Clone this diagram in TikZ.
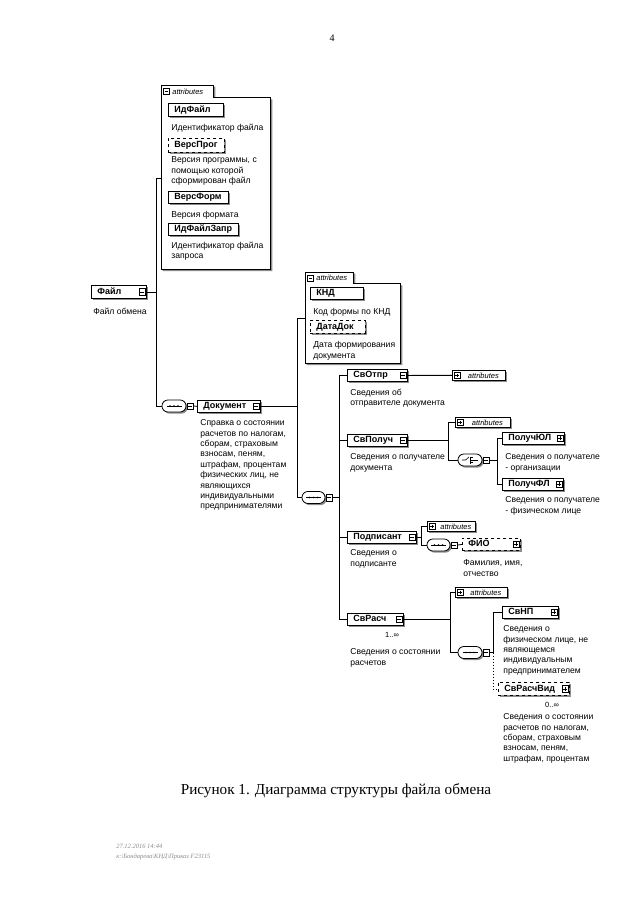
\documentclass[tikz,border=0pt]{standalone}
\usepackage{fontspec}
\setmainfont{Liberation Serif}
\newfontfamily\arial{Liberation Sans}
\usetikzlibrary{shadows}
\tikzset{
  shad/.style={drop shadow={shadow xshift=1.6pt, shadow yshift=-1.6pt, fill=black!45, opacity=1}},
  elembox/.style={draw, fill=white, anchor=north west, inner xsep=6pt, inner ysep=0pt, align=left,
    font=\arial\bfseries\fontsize{9}{10}\selectfont, text height=6.4pt, text depth=1.7pt, line width=0.8pt, shad},
  desctext/.style={anchor=north west, inner sep=0pt, align=left, font=\arial\fontsize{8.6}{10.4}\selectfont},
  multtext/.style={anchor=center, inner sep=0pt, font=\arial\fontsize{7.5}{8}\selectfont},
  pmbox/.style={draw, fill=white, minimum size=6.5pt, inner sep=0pt, line width=0.5pt},
  mbox/.style={pmbox, path picture={\draw[line width=0.5pt] ([xshift=1.3pt]path picture bounding box.west) -- ([xshift=-1.3pt]path picture bounding box.east);}},
  pbox/.style={pmbox, path picture={\draw[line width=0.5pt] ([xshift=1.3pt]path picture bounding box.west) -- ([xshift=-1.3pt]path picture bounding box.east);
      \draw[line width=0.5pt] ([yshift=1.3pt]path picture bounding box.south) -- ([yshift=-1.3pt]path picture bounding box.north);}},
  ovalbox/.style={draw, fill=white, minimum width=24pt, minimum height=12pt, rounded corners=5.9pt, inner sep=0pt, line width=0.8pt, shad},
  attrtext/.style={inner sep=0pt, font=\arial\itshape\fontsize{7.5}{8}\selectfont},
  sattrbox/.style={draw, fill=white, anchor=north west, minimum height=10pt, inner sep=0pt, line width=0.7pt,
    font=\arial\itshape\fontsize{7.5}{8}\selectfont, shad},
  conn/.style={line width=0.8pt},
}
% element box: name, x, y, width, height, text, extra style
\newcommand\elem[7]{%
  \pgfmathsetmacro\tw{#4-12}%
  \node[elembox,#7,minimum width=#4pt,minimum height=#5pt,text width=\tw pt] (#1) at (#2,#3) {#6};}
% port square inside an element
\newcommand\eport[2]{\node[#2] (#1p) at ([xshift=-4.5pt]#1.east) {};}
% description text: name, x, center-y of first line, text
\newcommand\desc[4]{\node[desctext, yshift=3.6pt] (#1) at (#2,#3) {#4};}
% attribute group: name, x, y, tabw, tabh, bodyw, bodyh
\newcommand\attrgroup[7]{%
  \node[anchor=north west, minimum width=#4pt, minimum height=#5pt, inner sep=0pt] (#1t) at (#2,#3) {};
  \node[anchor=north west, minimum width=#6pt, minimum height=#7pt, inner sep=0pt] (#1) at (#1t.south west) {};
  \fill[black!45] ([xshift=1.6pt,yshift=-1.6pt]#1t.north west) -- ([xshift=1.6pt,yshift=-1.6pt]#1.south west)
    -- ([xshift=1.6pt,yshift=-1.6pt]#1.south east) -- ([xshift=1.6pt,yshift=-1.6pt]#1.north east)
    -- ([xshift=1.6pt,yshift=-1.6pt]#1t.south east) -- ([xshift=1.6pt,yshift=-1.6pt]#1t.north east) -- cycle;
  \filldraw[fill=white, line width=0.8pt] (#1t.north west) -- (#1.south west) -- (#1.south east) -- (#1.north east)
    -- (#1t.south east) -- (#1t.north east) -- cycle;
  \node[mbox, minimum size=6pt] (#1m) at ([xshift=5.5pt]#1t.west) {};
  \node[attrtext, anchor=west] (#1l) at ([xshift=11pt]#1t.west) {attributes};}
% small collapsed attributes box: name, x, y, width
\newcommand\sattr[4]{%
  \node[sattrbox, minimum width=#4pt] (#1) at (#2,#3) {\hspace*{9pt}attributes};
  \node[pbox, minimum size=6pt] (#1m) at ([xshift=5pt]#1.west) {};}
% sequence symbol
\newcommand\seqsym[1]{%
  \draw[line width=0.6pt] ([xshift=-7.5pt]#1.center) -- ([xshift=7.5pt]#1.center);
  \foreach \d in {-4,0,4} \fill ([xshift=\d pt]#1.center) circle (0.9pt);}
% choice symbol
\newcommand\choicesym[1]{%
  \draw[line width=0.6pt] ([xshift=-8pt]#1.center) -- ([xshift=-4.5pt]#1.center) -- ([xshift=-1pt,yshift=3pt]#1.center);
  \draw[line width=0.6pt] ([xshift=0pt,yshift=3.5pt]#1.center) -- ([xshift=0pt,yshift=-3.5pt]#1.center);
  \foreach \d in {-2.5,0,2.5} \draw[line width=0.5pt] ([xshift=0pt,yshift=\d pt]#1.center) -- ([xshift=3pt,yshift=\d pt]#1.center);
  \draw[line width=0.6pt] ([xshift=3pt]#1.center) -- ([xshift=8pt]#1.center);}
\begin{document}
\begin{tikzpicture}[x=1pt,y=-1pt,line width=0.7pt]
\useasboundingbox (0,0) rectangle (640,905);
\fill[white] (0,0) rectangle (640,905);

% page number
\node[font=\fontsize{10}{12}\selectfont, inner sep=0pt] (pnum) at (332,38) {4};

% junction x positions
\coordinate (x1) at (156,0);
\coordinate (x2) at (297,0);
\coordinate (x3) at (339,0);
\coordinate (x4) at (448,0);
\coordinate (x5) at (497,0);
\coordinate (x6) at (421,0);
\coordinate (x7) at (450,0);
\coordinate (x8) at (493,0);

% ---------- root ----------
\elem{fileE}{91}{285}{55}{13}{Файл}{}
\eport{fileE}{mbox}
\desc{fileD}{93}{311}{Файл обмена}

% attributes of Файл
\attrgroup{a1}{161}{85}{52}{12}{109}{171}
\elem{idf}{168}{103}{55}{13}{ИдФайл}{}
\desc{idfD}{171}{127}{Идентификатор файла}
\elem{vprog}{168}{138}{56}{14}{ВерсПрог}{dashed}
\desc{vprogD}{171}{160}{Версия программы, с\\помощью которой\\сформирован файл}
\elem{vform}{168}{191}{60}{12}{ВерсФорм}{}
\desc{vformD}{171}{215}{Версия формата}
\elem{idfz}{168}{223}{70}{12}{ИдФайлЗапр}{}
\desc{idfzD}{171}{245}{Идентификатор файла\\запроса}

% sequence of Файл
\node[ovalbox] (s1) at (174,406) {};
\seqsym{s1}
\node[mbox] (s1p) at ([xshift=4pt]s1.east) {};

\draw[conn] (fileEp.east) -- (fileEp.east -| x1);
\draw[conn] ([yshift=5pt]a1.west) -| (s1.west -| x1) -- (s1.west);

% ---------- Документ ----------
\elem{doc}{197}{400}{63}{12}{Документ}{}
\eport{doc}{mbox}
\desc{docD}{200}{423}{Справка о состоянии\\расчетов по налогам,\\сборам, страховым\\взносам, пеням,\\штрафам, процентам\\физических лиц, не\\являющихся\\индивидуальными\\предпринимателями}
\draw[conn] (s1p.east) -- (doc.west);

\attrgroup{a2}{305}{272}{48}{11}{95}{79}
\elem{knd}{310}{287}{53}{12}{КНД}{}
\desc{kndD}{313}{312}{Код формы по КНД}
\elem{datadoc}{310}{320}{55}{13}{ДатаДок}{dashed}
\desc{datadocD}{313}{345}{Дата формирования\\документа}

\node[ovalbox, minimum width=23pt] (s2) at (313.5,497.5) {};
\seqsym{s2}
\node[mbox] (s2p) at ([xshift=4pt]s2.east) {};

\draw[conn] (docp.east) -- (docp.east -| x2);
\draw[conn] ([yshift=5pt]a2.west) -| (s2.west -| x2) -- (s2.west);

% ---------- children of Документ ----------
\elem{svotpr}{347}{369}{60}{12}{СвОтпр}{}
\eport{svotpr}{mbox}
\desc{svotprD}{350}{392}{Сведения об\\отправителе документа}
\sattr{sa1}{452}{370}{53}

\elem{svpoluch}{347}{434}{60}{12}{СвПолуч}{}
\eport{svpoluch}{mbox}
\desc{svpoluchD}{350}{457}{Сведения о получателе\\документа}
\sattr{sa2}{455}{417}{55}
\node[ovalbox] (ch1) at (470,460) {};
\choicesym{ch1}
\node[mbox] (ch1p) at ([xshift=4pt]ch1.east) {};

\elem{polul}{502}{432}{62}{12}{ПолучЮЛ}{}
\eport{polul}{pbox}
\desc{polulD}{505}{457}{Сведения о получателе\\- организации}
\elem{polfl}{502}{478}{61}{12}{ПолучФЛ}{}
\eport{polfl}{pbox}
\desc{polflD}{505}{500}{Сведения о получателе\\- физическом лице}

\elem{podp}{347}{531}{69}{12}{Подписант}{}
\eport{podp}{mbox}
\desc{podpD}{350}{553}{Сведения о\\подписанте}
\sattr{sa3}{427}{521}{48}
\node[ovalbox, minimum width=23pt] (s3) at (438.5,545) {};
\seqsym{s3}
\node[mbox] (s3p) at ([xshift=4pt]s3.east) {};
\elem{fio}{462}{538}{58}{12}{ФИО}{dashed}
\eport{fio}{pbox}
\desc{fioD}{463}{563}{Фамилия, имя,\\отчество}

\elem{svrasch}{347}{613}{56}{12}{СвРасч}{}
\eport{svrasch}{mbox}
\node[multtext] (svraschM) at (392,635) {1..∞};
\desc{svraschD}{350}{652}{Сведения о состоянии\\расчетов}
\sattr{sa4}{455}{587}{52}
\node[ovalbox] (s4) at (470,652.5) {};
\seqsym{s4}
\node[mbox] (s4p) at ([xshift=4pt]s4.east) {};

\elem{svnp}{502}{606}{56}{12}{СвНП}{}
\eport{svnp}{pbox}
\desc{svnpD}{503}{629}{Сведения о\\физическом лице, не\\являющемся\\индивидуальным\\предпринимателем}
\elem{svrv}{498}{682}{71}{13}{СвРасчВид}{dashed}
\eport{svrv}{pbox}
\node[multtext] (svrvM) at (552,705) {0..∞};
\desc{svrvD}{503}{717}{Сведения о состоянии\\расчетов по налогам,\\сборам, страховым\\взносам, пеням,\\штрафам, процентам}

% ---------- connectors ----------
\draw[conn] (s2p.east) -- (s2p.east -| x3);
\draw[conn] (svotpr.west) -| (svrasch.west -| x3) -- (svrasch.west);
\draw[conn] (svpoluch.west) -- (svpoluch.west -| x3);
\draw[conn] (podp.west) -- (podp.west -| x3);

\draw[conn] (svotprp.east) -- (sa1.west);

\draw[conn] (svpoluchp.east) -- (svpoluchp.east -| x4);
\draw[conn] (sa2.west) -| (ch1.west -| x4) -- (ch1.west);
\draw[conn] (ch1p.east) -- (ch1p.east -| x5);
\draw[conn] (polul.west) -| (polfl.west -| x5) -- (polfl.west);

\draw[conn] (podpp.east) -- (podpp.east -| x6);
\draw[conn] (sa3.west) -| (s3.west -| x6) -- (s3.west);
\draw[conn] (s3p.east) -- (fio.west);

\draw[conn] (svraschp.east) -- (svraschp.east -| x7);
\draw[conn] (sa4.west) -| (s4.west -| x7) -- (s4.west);
\draw[conn] (s4p.east) -- (s4p.east -| x8);
\draw[conn] (svnp.west) -| (s4p.east -| x8);
\draw[conn, dashed, dash pattern=on 1.5pt off 1.5pt] (s4p.east -| x8) |- (svrv.west);

% caption
\node[font=\fontsize{15.2}{18}\selectfont, inner sep=0pt] (cap) at (336,791) {Рисунок 1. Диаграмма структуры файла обмена};

% footer
\node[anchor=west, inner sep=0pt, text=black!45, font=\itshape\fontsize{6.5}{7.5}\selectfont] (f1) at (116,846) {27.12.2016 14:44};
\node[anchor=west, inner sep=0pt, text=black!45, font=\itshape\fontsize{6.5}{7.5}\selectfont] (f2) at (116,857) {к:\textbackslash Бондарева\textbackslash КНД\textbackslash Приказ F23115};
\end{tikzpicture}
\end{document}
